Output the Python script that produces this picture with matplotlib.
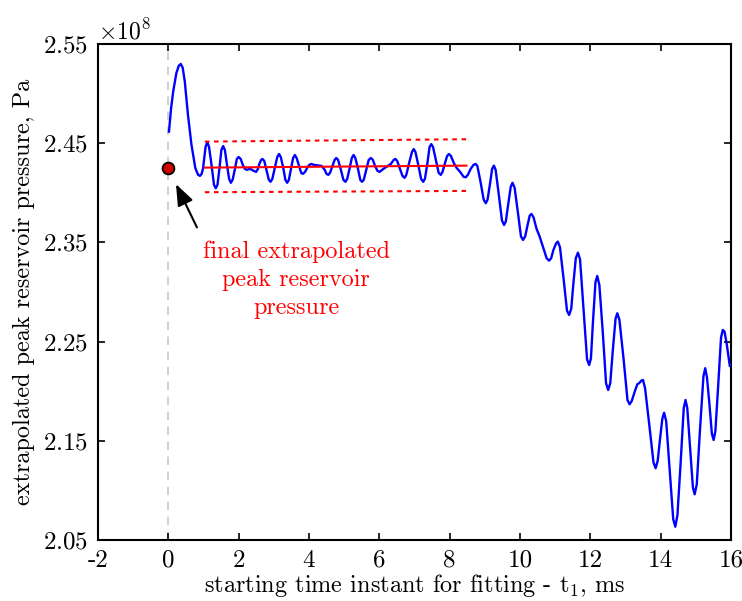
import matplotlib
matplotlib.use('Agg')
import matplotlib.pyplot as plt
import numpy as np

plt.rcParams['font.family'] = 'cmr10'
plt.rcParams['mathtext.fontset'] = 'cm'
plt.rcParams['axes.unicode_minus'] = False
plt.rcParams['axes.formatter.use_mathtext'] = True

# extrapolated peak pressure vs fitting start time (x in ms, y in 1e8 Pa)
t1 = [0.02, 0.08, 0.14, 0.23, 0.30, 0.355, 0.41, 0.47, 0.56, 0.66,
      0.77, 0.85, 0.90, 0.95, 0.99, 1.06, 1.11, 1.16, 1.23, 1.30,
      1.35, 1.40, 1.46, 1.51, 1.56, 1.61, 1.67, 1.73, 1.78, 1.83,
      1.89, 1.95, 2.00, 2.06, 2.12, 2.18, 2.24, 2.30, 2.36, 2.43,
      2.50, 2.55, 2.59, 2.64, 2.68, 2.73, 2.80, 2.86, 2.91, 2.96,
      3.03, 3.10, 3.15, 3.20, 3.27, 3.33, 3.38, 3.43, 3.49, 3.55,
      3.60, 3.65, 3.72, 3.78, 3.83, 3.89, 3.95, 4.01, 4.07, 4.15,
      4.25, 4.36, 4.45, 4.50, 4.55, 4.60, 4.67, 4.73, 4.78, 4.83,
      4.91, 4.98, 5.04, 5.09, 5.16, 5.22, 5.27, 5.32, 5.39, 5.46,
      5.51, 5.56, 5.63, 5.70, 5.76, 5.82, 5.88, 5.95, 6.01, 6.08,
      6.20, 6.33, 6.41, 6.46, 6.51, 6.59, 6.66, 6.72, 6.77, 6.85,
      6.93, 6.98, 7.03, 7.11, 7.19, 7.25, 7.30, 7.37, 7.43, 7.48,
      7.53, 7.61, 7.69, 7.75, 7.80, 7.87, 7.93, 7.98, 8.04, 8.12,
      8.20, 8.30, 8.40, 8.46, 8.52, 8.60, 8.68, 8.74, 8.79, 8.88,
      8.97, 9.03, 9.08, 9.15, 9.21, 9.26, 9.31, 9.40, 9.49, 9.55,
      9.60, 9.67, 9.74, 9.79, 9.85, 9.94, 10.03, 10.09, 10.15, 10.21,
      10.28, 10.33, 10.39, 10.47, 10.56, 10.66, 10.76, 10.83, 10.89, 10.95,
      11.03, 11.08, 11.14, 11.24, 11.34, 11.40, 11.46, 11.52, 11.59, 11.65,
      11.71, 11.81, 11.91, 11.97, 12.02, 12.08, 12.15, 12.20, 12.26, 12.36,
      12.45, 12.51, 12.57, 12.64, 12.72, 12.77, 12.83, 12.95, 13.06, 13.12,
      13.18, 13.27, 13.34, 13.39, 13.45, 13.50, 13.56, 13.68, 13.80, 13.86,
      13.92, 13.98, 14.05, 14.10, 14.16, 14.26, 14.36, 14.42, 14.48, 14.57,
      14.66, 14.71, 14.76, 14.84, 14.92, 14.97, 15.03, 15.12, 15.22, 15.27,
      15.32, 15.39, 15.46, 15.51, 15.56, 15.64, 15.72, 15.77, 15.82, 15.88,
      15.97]
p_peak = [2.4616, 2.485, 2.5019, 2.5205, 2.528, 2.5298, 2.526, 2.512, 2.4784, 2.4482,
          2.4247, 2.418, 2.417, 2.419, 2.4247, 2.446, 2.451, 2.446, 2.428, 2.408,
          2.4045, 2.408, 2.426, 2.443, 2.447, 2.443, 2.428, 2.414, 2.410, 2.413,
          2.423, 2.434, 2.436, 2.434, 2.428, 2.424, 2.423, 2.424, 2.4235, 2.422,
          2.421, 2.424, 2.429, 2.433, 2.434, 2.432, 2.422, 2.413, 2.411, 2.414,
          2.425, 2.436, 2.439, 2.436, 2.425, 2.413, 2.410, 2.413, 2.424, 2.435,
          2.438, 2.435, 2.427, 2.420, 2.419, 2.421, 2.425, 2.428, 2.429, 2.428,
          2.4275, 2.427, 2.423, 2.419, 2.418, 2.420, 2.427, 2.433, 2.435, 2.433,
          2.423, 2.413, 2.411, 2.414, 2.425, 2.435, 2.438, 2.435, 2.425, 2.413,
          2.411, 2.413, 2.423, 2.433, 2.435, 2.433, 2.427, 2.422, 2.421, 2.423,
          2.426, 2.429, 2.433, 2.434, 2.432, 2.424, 2.417, 2.415, 2.418, 2.430,
          2.441, 2.444, 2.441, 2.428, 2.414, 2.411, 2.414, 2.430, 2.446, 2.449,
          2.446, 2.433, 2.420, 2.418, 2.421, 2.430, 2.437, 2.439, 2.437, 2.430,
          2.425, 2.421, 2.416, 2.4156, 2.418, 2.424, 2.428, 2.429, 2.427, 2.411,
          2.393, 2.3894, 2.393, 2.409, 2.424, 2.4273, 2.423, 2.398, 2.372, 2.3675,
          2.371, 2.389, 2.406, 2.410, 2.405, 2.381, 2.356, 2.3524, 2.356, 2.366,
          2.377, 2.3786, 2.375, 2.364, 2.356, 2.345, 2.334, 2.3315, 2.334, 2.342,
          2.349, 2.3507, 2.345, 2.314, 2.281, 2.2768, 2.283, 2.308, 2.334, 2.3396,
          2.333, 2.283, 2.232, 2.2264, 2.233, 2.271, 2.310, 2.3161, 2.307, 2.258,
          2.208, 2.2012, 2.208, 2.240, 2.273, 2.2785, 2.272, 2.232, 2.191, 2.1868,
          2.190, 2.200, 2.207, 2.208, 2.2105, 2.2113, 2.203, 2.166, 2.128, 2.1223,
          2.130, 2.150, 2.172, 2.1783, 2.170, 2.121, 2.071, 2.0634, 2.075, 2.127,
          2.183, 2.1911, 2.183, 2.143, 2.103, 2.0961, 2.106, 2.160, 2.215, 2.2231,
          2.214, 2.187, 2.157, 2.1508, 2.160, 2.206, 2.254, 2.2617, 2.260, 2.248,
          2.2255]

# averaged value and band over the fitting window
fit_t = [1.04, 8.48]
fit_mean = [2.4253, 2.4273]
fit_upper = [2.4515, 2.4539]
fit_lower = [2.4005, 2.4018]
final_t = 0.0
final_p = 2.4253

x_ticks = [-2, 0, 2, 4, 6, 8, 10, 12, 14, 16]
y_ticks = [2.05, 2.15, 2.25, 2.35, 2.45, 2.55]

scale = 1e8
fig = plt.figure(figsize=(7.42, 6.01), dpi=100)
ax = fig.add_axes([0.132, 0.1015, 0.853, 0.8255])

ax.axvline(0, color='#c8c8c8', linestyle=(0, (5, 4)), linewidth=1.2, zorder=1)
ax.plot(t1, np.array(p_peak) * scale, color='#0000ff', linewidth=1.7, zorder=3,
        solid_joinstyle='round')
ax.plot(fit_t, np.array(fit_mean) * scale, color='#ff0000', linewidth=1.5, zorder=4)
ax.plot(fit_t, np.array(fit_upper) * scale, color='#ff0000', linewidth=1.5,
        linestyle=(0, (2.2, 2.2)), zorder=4)
ax.plot(fit_t, np.array(fit_lower) * scale, color='#ff0000', linewidth=1.5,
        linestyle=(0, (2.2, 2.2)), zorder=4)
ax.plot([final_t], [final_p * scale], 'o', markersize=8.5, markerfacecolor='#d00000',
        markeredgecolor='black', markeredgewidth=1.3, zorder=5)

ax.annotate('', xy=(0.185, 2.4112 * scale), xytext=(0.85, 2.3625 * scale),
            arrowprops=dict(arrowstyle='-|>,head_length=1.3,head_width=0.5',
                            color='black', linewidth=1.5))
ax.text(3.64, 2.3125 * scale, 'final extrapolated\npeak reservoir\npressure',
        color='#ff0000', fontsize=17.5, ha='center', va='center', linespacing=1.35)

ax.set_xlim(-2, 16)
ax.set_ylim(2.05 * scale, 2.55 * scale)
ax.set_xticks(x_ticks)
ax.set_xticklabels([str(v) for v in x_ticks])
ax.set_yticks(np.array(y_ticks) * scale)
ax.ticklabel_format(axis='y', style='sci', scilimits=(8, 8))
ax.tick_params(direction='in', top=True, right=True, length=5, width=1.2,
               labelsize=18, pad=7)
for s in ax.spines.values():
    s.set_linewidth(1.5)
ax.yaxis.get_offset_text().set_fontsize(17)

ax.set_xlabel('starting time instant for fitting - t$_1$, ms', fontsize=17.5, labelpad=0)
ax.set_ylabel('extrapolated peak reservoir pressure, Pa', fontsize=17.5, labelpad=6)

fig.savefig('out.png', dpi=100)
